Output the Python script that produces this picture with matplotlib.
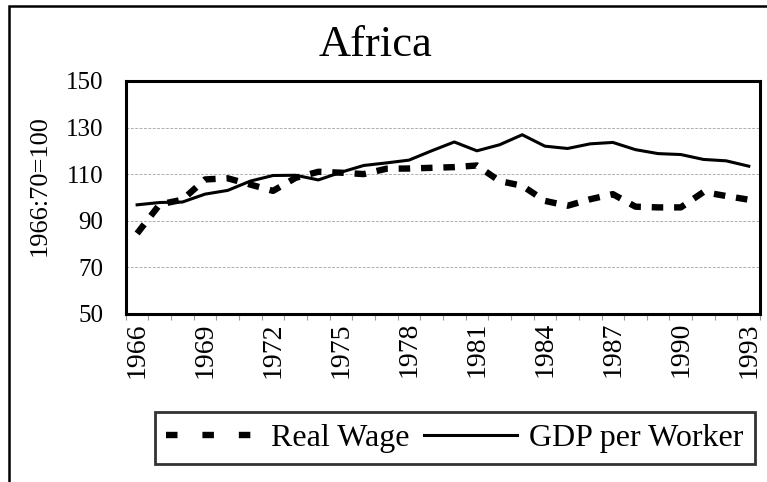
import matplotlib.pyplot as plt
from matplotlib.lines import Line2D
from matplotlib.patches import Rectangle

years = list(range(1966, 1994))
tick_years = [1966, 1969, 1972, 1975, 1978, 1981, 1984, 1987, 1990, 1993]

real_wage = [84.5, 97, 99, 107.7, 108.2, 105.5, 102.8, 108.4, 111, 110.6,
             110, 112.3, 112.4, 112.7, 113, 113.7, 107, 105, 98.5, 96.4,
             99.2, 101.4, 96, 95.7, 95.7, 102.3, 100.6, 99]
gdp_worker = [96.8, 97.8, 98, 101.4, 103, 107, 109.4, 109.5, 107.5, 110.8,
              113.7, 114.8, 116, 120, 123.8, 120, 122.6, 126.9, 122, 121,
              123, 123.6, 120.5, 118.8, 118.4, 116.3, 115.7, 113.4]

plt.rcParams['font.family'] = 'serif'
plt.rcParams['font.serif'] = ['Liberation Serif', 'Times New Roman',
                              'Nimbus Roman', 'DejaVu Serif']

fig = plt.figure(figsize=(7.67, 4.82), dpi=100)
ax = fig.add_axes([0.164, 0.349, 0.827, 0.483])

x = list(range(len(years)))
ax.plot(x, real_wage, color='black', lw=4.6, linestyle=(0, (1.8, 1.7)),
        dash_capstyle='butt')
ax.plot(x, gdp_worker, color='black', lw=2.2)

ax.set_xlim(-0.5, len(years) - 0.5)
ax.set_ylim(50, 150)
ax.set_yticks([50, 70, 90, 110, 130, 150])
ax.set_xticks([years.index(y) for y in tick_years])
ax.set_xticklabels([str(y) for y in tick_years], rotation=90, fontsize=20)
ax.set_xticks([i - 0.5 for i in range(len(years) + 1)], minor=True)
ax.tick_params(axis='x', which='major', length=0, pad=6)
ax.tick_params(axis='x', which='minor', length=4, width=0.8, color='#999999')
ax.tick_params(axis='y', length=0, pad=16, labelsize=18)

for v in [70, 90, 110, 130]:
    ax.axhline(v, color='#b0b0b0', lw=0.7, linestyle=(0, (3, 1.5)), zorder=0)

for s in ax.spines.values():
    s.set_linewidth(2.2)

fig.text(0.489, 0.907, 'Africa', ha='center', va='center', fontsize=32)
fig.text(0.052, 0.616, '1966:70=100', rotation=90, ha='center', va='center',
         fontsize=19)

handles = [
    Line2D([], [], color='black', lw=4.6, linestyle=(0, (1.8, 3.9)),
           dash_capstyle='butt'),
    Line2D([], [], color='black', lw=2.2),
]
leg = fig.legend(handles, ['Real Wage', 'GDP per Worker'], loc='center',
                 bbox_to_anchor=(0.593, 0.091), ncol=2, fontsize=23,
                 frameon=True, fancybox=False, handlelength=2.9,
                 handletextpad=0.4, columnspacing=0.45, borderpad=0.35,
                 borderaxespad=0)
leg.get_frame().set_edgecolor('black')
leg.get_frame().set_linewidth(2.0)

fig.patches.append(Rectangle((9 / 767, -0.1), 1.2, 1 - 6 / 482 + 0.1,
                             transform=fig.transFigure, fill=False,
                             edgecolor='black', lw=1.8, clip_on=False))

fig.savefig('out.png', dpi=100)
